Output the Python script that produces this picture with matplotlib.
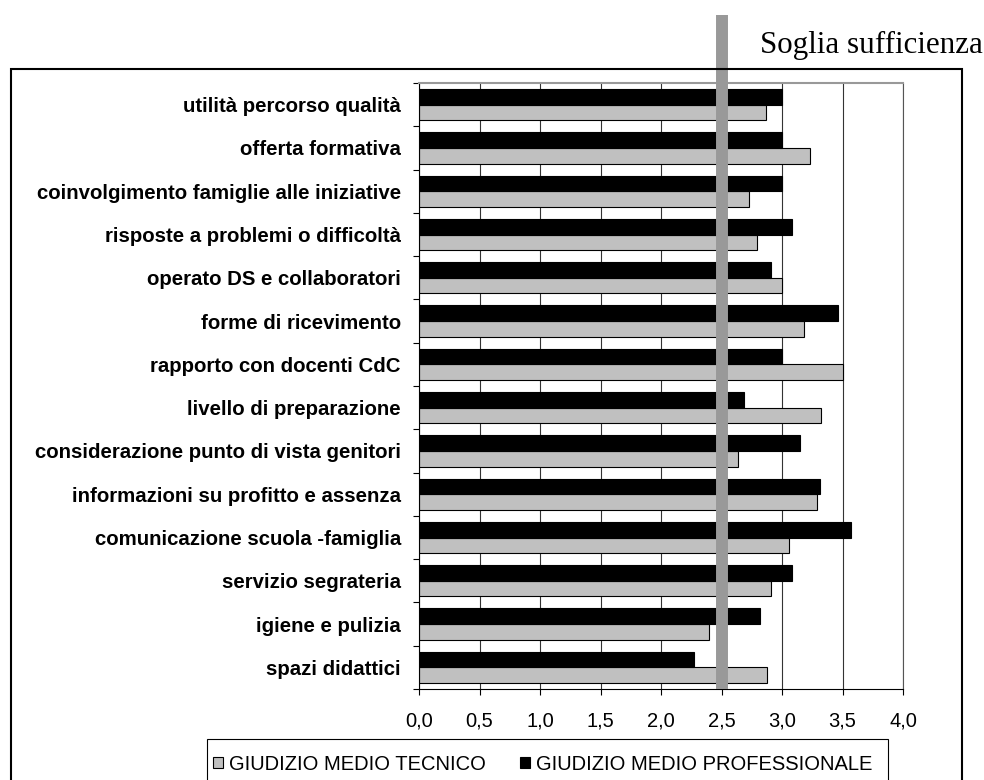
import numpy as np
import matplotlib.pyplot as plt
from matplotlib.patches import Patch, Rectangle
from matplotlib.ticker import FuncFormatter, FixedLocator

categorie = ["utilità percorso qualità", "offerta formativa",
             "coinvolgimento famiglie alle iniziative",
             "risposte a problemi o difficoltà", "operato DS e collaboratori",
             "forme di ricevimento", "rapporto con docenti CdC",
             "livello di preparazione", "considerazione punto di vista genitori",
             "informazioni su profitto e assenza", "comunicazione scuola -famiglia",
             "servizio segrateria", "igiene e pulizia", "spazi didattici"]
tecnico = [2.87, 3.23, 2.73, 2.79, 3.00, 3.18, 3.50,
           3.32, 2.64, 3.29, 3.06, 2.91, 2.40, 2.88]
professionale = [3.00, 3.00, 3.00, 3.08, 2.91, 3.46, 3.00,
                 2.69, 3.15, 3.31, 3.57, 3.08, 2.82, 2.27]
soglia = 2.5
etichette = ["GIUDIZIO MEDIO TECNICO", "GIUDIZIO MEDIO PROFESSIONALE"]

sans = ['Liberation Sans', 'DejaVu Sans']
plt.rcParams['font.family'] = sans

W, H = 984, 780
fig = plt.figure(figsize=(W/100, H/100), dpi=100)
ax = fig.add_axes([419/W, (H-689)/H, 484/W, 606/H])

n = len(categorie)
y = np.arange(n)[::-1]
h = 0.36
ax.barh(y - h/2, tecnico, height=h, color='#c0c0c0', edgecolor='black', linewidth=0.8, zorder=2)
ax.barh(y + h/2, professionale, height=h, color='black', edgecolor='black', linewidth=0.8, zorder=2)

ax.set_xlim(0, 4)
ax.set_ylim(-0.5, n - 0.5)
ax.set_xticks(np.arange(0, 4.01, 0.5))
ax.xaxis.set_major_formatter(FuncFormatter(lambda v, p: f"{v:.1f}".replace('.', ',')))
ax.set_yticks(y)
ax.set_yticklabels(categorie, fontweight='bold', fontsize=14.7)
ax.yaxis.set_minor_locator(FixedLocator(np.arange(-0.5, n, 1)))
ax.tick_params(axis='y', which='major', length=0, pad=13)
ax.tick_params(axis='y', which='minor', length=4.3, width=0.8, direction='out')
ax.tick_params(axis='x', length=4.3, width=0.8, labelsize=14.5, pad=12)

ax.grid(axis='x', color='#333333', linewidth=0.8, zorder=0)
ax.set_axisbelow(True)
ax.spines['top'].set_color('#999999')
ax.spines['top'].set_linewidth(1.5)
ax.spines['right'].set_color('#555555')
ax.spines['right'].set_linewidth(0.8)
ax.spines['left'].set_linewidth(0.8)
ax.spines['bottom'].set_linewidth(0.8)

# linea soglia
ax.plot([soglia, soglia], [0, 1 + 68/606], transform=ax.get_xaxis_transform(),
        color='#999999', linewidth=8.6, solid_capstyle='butt', clip_on=False, zorder=5)
fig.text(760/W, (H-53)/H, "Soglia sufficienza", family=['Liberation Serif', 'DejaVu Serif'],
         fontsize=22.3, va='baseline', ha='left')

# cornice esterna
fig.patches.append(Rectangle((11/W, -0.05), (962-11)/W, (H-69)/H + 0.05,
                             transform=fig.transFigure, fill=False, edgecolor='black', linewidth=1.5))
# cornice legenda
fig.patches.append(Rectangle((207/W, -0.05), (888-207)/W, (H-739)/H + 0.05,
                             transform=fig.transFigure, fill=False, edgecolor='black', linewidth=0.8))

handles = [Patch(facecolor='#c0c0c0', edgecolor='black', linewidth=0.8),
           Patch(facecolor='black', edgecolor='black', linewidth=0.8)]
fig.legend(handles, etichette, loc='center', bbox_to_anchor=(543/W, (H-764)/H),
           ncol=2, frameon=False, fontsize=14.5, handlelength=0.5, handleheight=0.5,
           handletextpad=0.3, columnspacing=1.7, borderpad=0)

fig.savefig("out.png", dpi=100)
